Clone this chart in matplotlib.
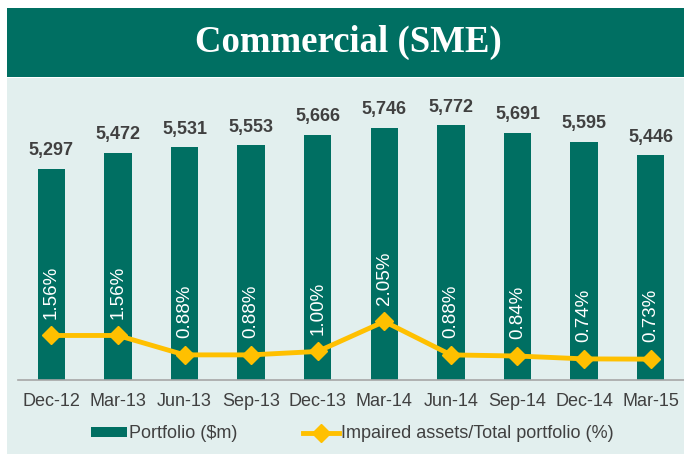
import matplotlib
matplotlib.use("Agg")
import matplotlib.pyplot as plt
from matplotlib.patches import Rectangle

quarters = ["Dec-12", "Mar-13", "Jun-13", "Sep-13", "Dec-13",
            "Mar-14", "Jun-14", "Sep-14", "Dec-14", "Mar-15"]
portfolio = [5297, 5472, 5531, 5553, 5666, 5746, 5772, 5691, 5595, 5446]
impaired_pct = [1.56, 1.56, 0.88, 0.88, 1.00, 2.05, 0.88, 0.84, 0.74, 0.73]

green = "#006F62"
gold = "#FFC000"
panel = "#E2EFEE"
grey = "#404040"

plt.rcParams["font.family"] = ["Liberation Sans", "DejaVu Sans"]

fig = plt.figure(figsize=(6.84, 4.54), dpi=100)
fig.patch.set_facecolor("white")

# background panel + title band
fig.patches.append(Rectangle((7 / 684, 0), 1, 376 / 454, transform=fig.transFigure,
                             facecolor=panel, edgecolor="none", zorder=-2))
fig.patches.append(Rectangle((7 / 684, 377 / 454), 1, 69 / 454, transform=fig.transFigure,
                             facecolor=green, edgecolor="none", zorder=-2))
fig.text(0.51, 1 - 42 / 454, "Commercial (SME)", ha="center", va="center",
         color="white", fontsize=26.5, fontweight="bold", family="Liberation Serif")

ax = fig.add_axes([18 / 684, 74 / 454, 666 / 684, 294 / 454])
ax.set_facecolor("none")
x = list(range(len(quarters)))

bars = ax.bar(x, portfolio, width=0.41, color=green, label="Portfolio ($m)", zorder=2)
ax.set_ylim(3000, 6200)
ax.set_xlim(-0.5, 9.5)

for xi, v in zip(x, portfolio):
    ax.annotate(f"{v:,}", (xi, v), xytext=(0, 7), textcoords="offset points",
                ha="center", va="bottom", fontsize=13, fontweight="bold", color=grey)

for s in ["top", "right", "left"]:
    ax.spines[s].set_visible(False)
ax.spines["bottom"].set_color("#A6A6A6")
ax.spines["bottom"].set_linewidth(1.2)
ax.set_yticks([])
ax.set_xticks(x)
ax.set_xticklabels(quarters, fontsize=13, color=grey)
ax.tick_params(axis="x", length=0, pad=9)

ax2 = ax.twinx()
ax2.set_ylim(0, 10.3)
ax2.set_yticks([])
for s in ax2.spines.values():
    s.set_visible(False)
line, = ax2.plot(x, impaired_pct, color=gold, linewidth=3.5, marker="D", markersize=9,
                 label="Impaired assets/Total portfolio (%)", zorder=3)

for xi, v in zip(x, impaired_pct):
    ax2.annotate(f"{v:.2f}%", (xi, v), xytext=(0, 12), textcoords="offset points",
                 ha="center", va="bottom", rotation=90, fontsize=13.5, color="white")

fig.legend([bars, line], ["Portfolio ($m)", "Impaired assets/Total portfolio (%)"],
           loc="center", bbox_to_anchor=(0.515, 1 - 434 / 454), ncol=2, frameon=False,
           fontsize=13, labelcolor=grey, handlelength=2.0, handleheight=0.5,
           handletextpad=0.1, columnspacing=3.6)

fig.savefig("out.png", dpi=100)
